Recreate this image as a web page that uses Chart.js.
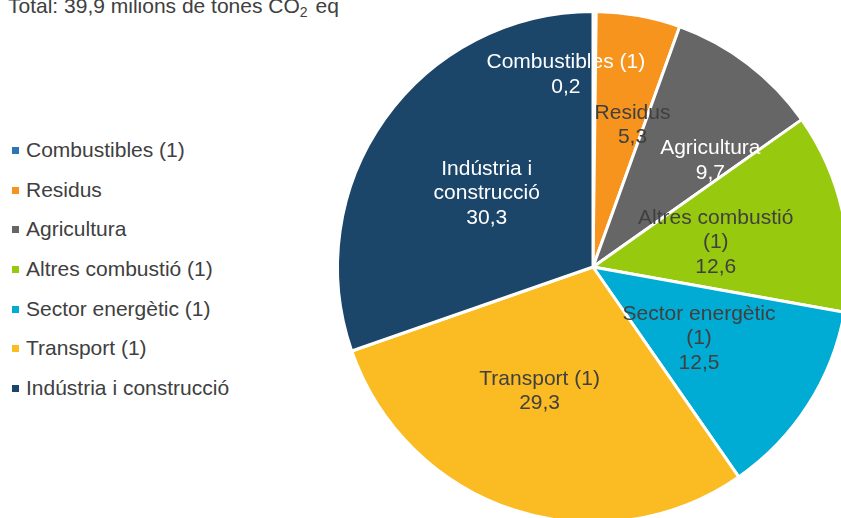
<!DOCTYPE html>
<html>
<head>
<meta charset="utf-8">
<script src="https://cdn.jsdelivr.net/npm/chart.js@4.4.0/dist/chart.umd.min.js"></script>
<style>
  html, body { margin: 0; padding: 0; background: #fff; }
  body { width: 841px; height: 518px; overflow: hidden; position: relative;
         font-family: "Liberation Sans", Arial, sans-serif; color: #404040; }
  #title { position: absolute; left: 8px; top: -5px; font-size: 21px; line-height: 21px; white-space: nowrap; }
  #title sub { font-size: 14px; vertical-align: -4px; line-height: 0; margin-right: 2px; }
  #legend { position: absolute; left: 12px; top: 130px; font-size: 21px; }
  #legend .item { height: 39.7px; line-height: 39.7px; white-space: nowrap; }
  #legend .box { display: inline-block; width: 7px; height: 7px; margin-right: 7px; vertical-align: 3px; }
  #wrap { position: absolute; left: 0; top: 0; width: 900px; height: 560px; }
</style>
</head>
<body>
<div id="title">Total: 39,9 milions de tones CO<sub>2</sub> eq</div>
<div id="legend"></div>
<div id="wrap"><canvas id="pie"></canvas></div>
<script>
// Data
const categories = ['Combustibles (1)', 'Residus', 'Agricultura', 'Altres combustió (1)',
                    'Sector energètic (1)', 'Transport (1)', 'Indústria i construcció'];
const values = [0.2, 5.3, 9.7, 12.6, 12.5, 29.3, 30.3];
// how the labels wrap inside the slices
const sliceLabels = [['Combustibles (1)'], ['Residus'], ['Agricultura'], ['Altres combustió', '(1)'],
                     ['Sector energètic', '(1)'], ['Transport (1)'], ['Indústria i', 'construcció']];

const colors = ['#2E75B6', '#F7941D', '#666666', '#97C90F', '#00ABD4', '#FBBB22', '#1B4569'];
const labelColors = ['#ffffff', '#404040', '#ffffff', '#404040', '#404040', '#404040', '#ffffff'];
// label placement: fraction of radius and angle shift (degrees) from slice middle
const labelRadius = [0.76, 0.576, 0.62, 0.49, 0.50, 0.53, 0.506];
const labelShift = [-8.4, 5.3, 10.5, 1.1, 1.2, 5.2, -0.7];

// HTML legend
const legend = document.getElementById('legend');
categories.forEach(function(name, i) {
    const item = document.createElement('div');
    item.className = 'item';
    const box = document.createElement('span');
    box.className = 'box';
    box.style.background = colors[i];
    item.appendChild(box);
    item.appendChild(document.createTextNode(name));
    legend.appendChild(item);
});

function fmt(v) {
    return v.toFixed(1).replace('.', ',');
}

// draw labels inside slices
const sliceLabelPlugin = {
    id: 'sliceLabels',
    afterDatasetsDraw: function(chart) {
        const ctx = chart.ctx;
        const meta = chart.getDatasetMeta(0);
        ctx.save();
        ctx.font = '21px "Liberation Sans", Arial, sans-serif';
        ctx.textAlign = 'center';
        ctx.textBaseline = 'middle';
        meta.data.forEach(function(arc, i) {
            const p = arc.getProps(['x', 'y', 'startAngle', 'endAngle', 'outerRadius'], true);
            const mid = (p.startAngle + p.endAngle) / 2 + labelShift[i] * Math.PI / 180;
            const r = p.outerRadius * labelRadius[i];
            const cx = p.x + Math.cos(mid) * r;
            const cy = p.y + Math.sin(mid) * r;
            const lines = sliceLabels[i].concat([fmt(values[i])]);
            const lh = 24.5;
            const top = cy - (lines.length - 1) * lh / 2;
            ctx.fillStyle = labelColors[i];
            lines.forEach(function(line, j) {
                ctx.fillText(line, cx, top + j * lh);
            });
        });
        ctx.restore();
    }
};

new Chart(document.getElementById('pie'), {
    type: 'pie',
    data: {
        labels: categories,
        datasets: [{
            data: values,
            backgroundColor: colors,
            borderColor: '#ffffff',
            borderWidth: 3
        }]
    },
    options: {
        responsive: true,
        maintainAspectRatio: false,
        animation: false,
        layout: { padding: { left: 336, top: 10, right: 50, bottom: 36 } },
        plugins: {
            legend: { display: false },
            tooltip: { enabled: false }
        }
    },
    plugins: [sliceLabelPlugin]
});
</script>
</body>
</html>
